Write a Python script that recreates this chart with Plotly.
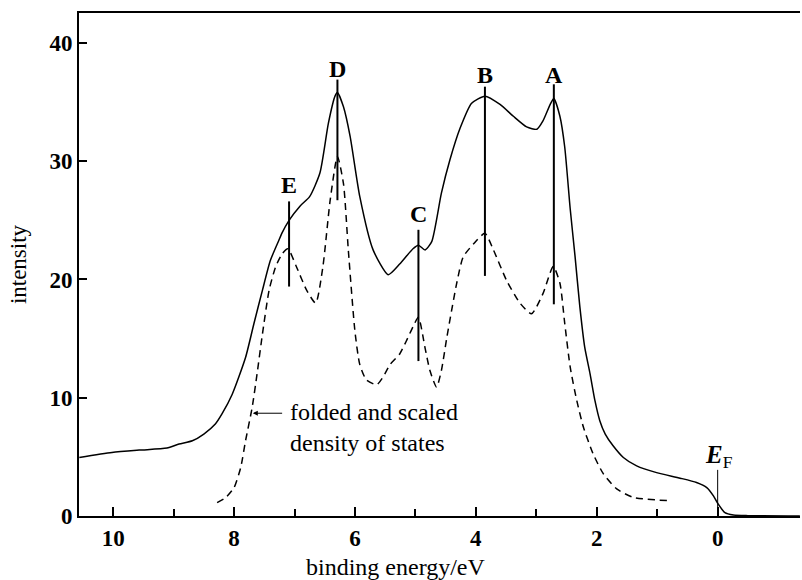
import plotly.graph_objects as go

# Measured spectrum (binding energy in eV, intensity)
spec_x = [10.56, 10.02, 9.57, 9.11, 8.91, 8.69, 8.50, 8.31, 8.20, 8.03, 7.81, 7.67, 7.53, 7.40, 7.26, 7.21,
          7.09, 6.91, 6.75, 6.58, 6.44, 6.33, 6.29, 6.19, 6.08, 5.92, 5.70, 5.45, 5.26, 5.04, 4.95, 4.84,
          4.73, 4.57, 4.43, 4.26, 4.07, 3.85, 3.60, 3.38, 3.16, 2.99, 2.89, 2.77, 2.71, 2.61, 2.53, 2.44,
          2.36, 2.28, 2.20, 2.11, 2.03, 1.95, 1.86, 1.73, 1.56, 1.34, 1.01, 0.62, 0.35, 0.18, 0.07, -0.01,
          -0.12, -0.26, -0.5, -1.36]
spec_y = [4.95, 5.37, 5.57, 5.74, 6.08, 6.36, 6.93, 7.78, 8.63, 10.3, 13.4, 16.3, 19.1, 21.6, 23.3, 23.9,
          25.0, 26.2, 27.0, 29.0, 33.2, 35.5, 35.8, 34.6, 32.1, 27.0, 22.5, 20.4, 21.3, 22.6, 22.9, 22.5,
          23.2, 27.3, 30.1, 32.8, 34.9, 35.5, 34.8, 33.8, 32.9, 32.7, 33.4, 34.8, 35.3, 33.8, 31.2, 26.0,
          22.0, 17.7, 14.3, 12.0, 9.75, 8.06, 6.93, 5.94, 4.95, 4.24, 3.67, 3.20, 2.83, 2.40, 1.70, 1.0,
          0.28, 0.08, 0.03, 0.0]

# Folded and scaled density of states
dos_x = [8.28, 8.14, 8.00, 7.89, 7.81, 7.70, 7.62, 7.53, 7.42, 7.31, 7.20, 7.11, 6.97, 6.80, 6.65, 6.53,
         6.41, 6.29, 6.19, 6.11, 6.00, 5.92, 5.81, 5.64, 5.53, 5.42, 5.26, 5.15, 5.04, 4.95, 4.84, 4.76,
         4.65, 4.57, 4.48, 4.32, 4.21, 4.04, 3.85, 3.71, 3.49, 3.27, 3.08, 2.89, 2.72, 2.61, 2.53, 2.44,
         2.33, 2.22, 2.06, 1.89, 1.67, 1.40, 0.84]
dos_y = [1.13, 1.55, 2.40, 4.10, 6.36, 9.19, 12.0, 15.4, 19.1, 21.1, 22.2, 22.6, 21.1, 19.1, 18.0, 21.1,
         26.7, 30.4, 28.1, 22.5, 15.6, 12.8, 11.5, 11.1, 11.8, 12.8, 13.7, 14.8, 16.0, 16.8, 14.2, 12.3,
         10.9, 12.3, 15.1, 19.6, 21.9, 23.0, 23.9, 22.5, 19.9, 18.0, 17.1, 18.8, 21.1, 19.7, 16.3, 12.6,
         9.75, 7.5, 5.25, 3.56, 2.29, 1.58, 1.30]

# Peak markers
peak_labels = ["E", "D", "C", "B", "A"]
peak_x = [7.09, 6.29, 4.95, 3.85, 2.71]
peak_lo = [19.4, 26.7, 13.1, 20.3, 17.9]
peak_hi = [26.6, 36.9, 24.2, 36.3, 36.5]
label_y = [28.0, 37.8, 25.5, 37.3, 37.3]

ef_x = 0.0
ef_lo, ef_hi = 0.0, 3.9

x_ticks = [10, 8, 6, 4, 2, 0]
y_ticks = [0, 10, 20, 30, 40]

SERIF = "Liberation Serif"

fig = go.Figure()
fig.add_trace(go.Scatter(x=spec_x, y=spec_y, mode="lines",
                         line=dict(color="black", width=1.5, shape="spline", smoothing=0.6)))
fig.add_trace(go.Scatter(x=dos_x, y=dos_y, mode="lines",
                         line=dict(color="black", width=1.5, dash="7px,5px", shape="spline", smoothing=0.6)))

for px, lo, hi in zip(peak_x, peak_lo, peak_hi):
    fig.add_trace(go.Scatter(x=[px, px], y=[lo, hi], mode="lines",
                             line=dict(color="black", width=2)))
fig.add_trace(go.Scatter(x=[ef_x, ef_x], y=[ef_lo, ef_hi], mode="lines",
                         line=dict(color="black", width=1)))

annotations = []
for lab, px, ly in zip(peak_labels, peak_x, label_y):
    annotations.append(dict(x=px, y=ly, text=f"<b>{lab}</b>", showarrow=False,
                            font=dict(family=SERIF, size=24, color="black"),
                            xanchor="center", yanchor="middle"))
annotations.append(dict(x=-0.02, y=5.0, text="<b><i>E</i></b><sub>F</sub>", showarrow=False,
                        font=dict(family=SERIF, size=25, color="black"),
                        xanchor="center", yanchor="middle"))
annotations.append(dict(x=7.11, y=7.5, text="folded and scaled<br>density of states", showarrow=False,
                        font=dict(family=SERIF, size=24, color="black"),
                        xanchor="left", yanchor="middle", align="left"))
annotations.append(dict(x=7.69, y=8.69, ax=7.18, ay=8.69, axref="x", ayref="y", text="",
                        showarrow=True, arrowhead=2, arrowsize=1, arrowwidth=1, arrowcolor="black"))
annotations.append(dict(x=0.44, xref="paper", y=-0.101, yref="paper", text="binding energy/eV",
                        showarrow=False, font=dict(family=SERIF, size=24, color="black"),
                        xanchor="center", yanchor="middle"))

fig.update_layout(
    width=802, height=580,
    margin=dict(l=79, r=2, t=13, b=64),
    paper_bgcolor="white", plot_bgcolor="white",
    showlegend=False,
    annotations=annotations,
    xaxis=dict(range=[10.565, -1.362], tickvals=x_ticks, ticktext=[str(t) for t in x_ticks],
               ticks="inside", ticklen=9, tickwidth=1.5, tickcolor="black",
               minor=dict(tickvals=[9, 7, 5, 3, 1], ticks="inside", ticklen=7, tickwidth=1.5, tickcolor="black"),
               showline=True, linecolor="black", linewidth=2, mirror=True,
               showgrid=False, zeroline=False,
               tickfont=dict(family=SERIF, size=23, color="black", weight="bold")),
    yaxis=dict(range=[0, 42.53], tickvals=y_ticks, ticktext=[str(t) for t in y_ticks],
               ticks="inside", ticklen=8, tickwidth=1.5, tickcolor="black",
               showline=True, linecolor="black", linewidth=2,
               showgrid=False, zeroline=False,
               tickfont=dict(family=SERIF, size=23, color="black", weight="bold"),
               title=dict(text="intensity", font=dict(family=SERIF, size=23, color="black"), standoff=16)),
)

fig.write_html("out.html")
